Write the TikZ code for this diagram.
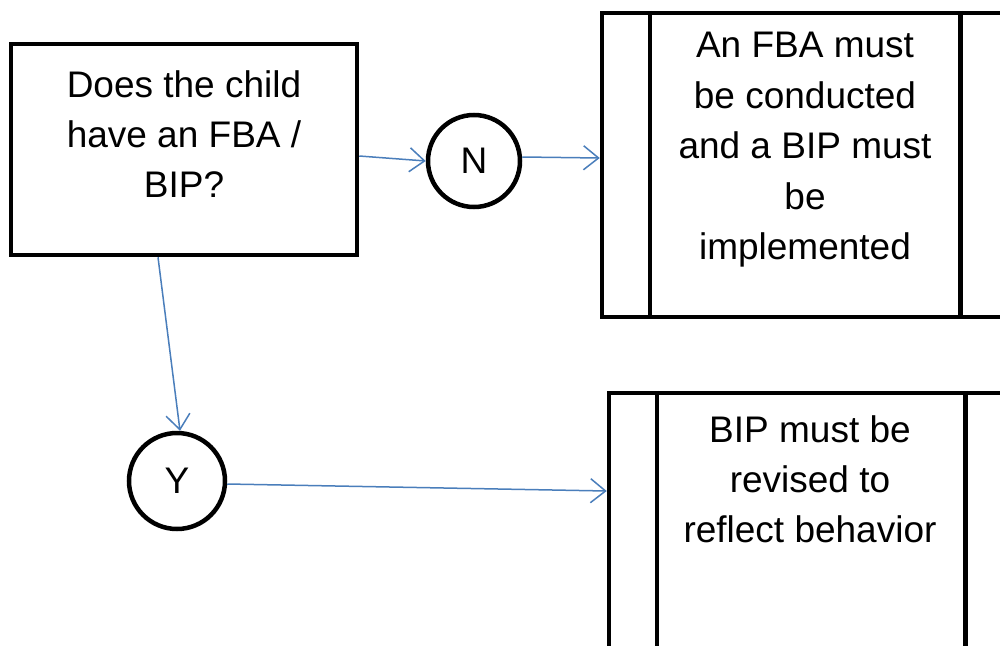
\documentclass[tikz,border=0pt]{standalone}
\usepackage{fontspec}
\setmainfont{Liberation Sans}
\usetikzlibrary{arrows.meta,calc}
\begin{document}
\begin{tikzpicture}[x=1pt,y=-1pt,
  blk/.style={draw=black,line width=4.5pt,rectangle,inner sep=0pt},
  circ/.style={draw=black,line width=4.5pt,circle,inner sep=0pt,font=\fontsize{37}{50}\selectfont},
  txt/.style={align=center,inner sep=0pt,font=\fontsize{37}{50}\selectfont},
  conn/.style={draw={rgb,255:red,74;green,126;blue,187},line width=1.5pt,-{Straight Barb[length=15pt,width=24pt,line width=1.5pt]}},
  sep/.style={draw=black,line width=4.5pt}]
\useasboundingbox (0,0) rectangle (1000,645);
\clip (0,0) rectangle (1000,645);
\fill[white] (0,0) rectangle (1000,645);
% question box
\node[blk,minimum width=346pt,minimum height=211pt] (A) at (184,149.5) {};
\node[txt] (At) at (184,134) {Does the child\\have an FBA /\\BIP?};
% circles
\node[circ,minimum size=92pt] (N) at (474,161) {N};
\node[circ,minimum size=96pt] (Y) at (177,481) {Y};
% predefined process B
\node[blk,minimum width=406pt,minimum height=304pt] (B) at (805,165) {};
\coordinate (B1t) at ($(B.north west)+(50,0)$);
\coordinate (B1b) at ($(B.south west)+(50,0)$);
\coordinate (B2t) at ($(B.north east)+(-50,0)$);
\coordinate (B2b) at ($(B.south east)+(-50,0)$);
\draw[sep] (B1t) -- (B1b);
\draw[sep] (B2t) -- (B2b);
\node[txt,font=\fontsize{37}{50.5}\selectfont] (Bt) at (805,150) {An FBA must\\be conducted\\and a BIP must\\be\\implemented};
% predefined process C
\node[blk,minimum width=404pt,minimum height=310pt] (C) at (811,548) {};
\coordinate (C1t) at ($(C.north west)+(50,0)$);
\coordinate (C1b) at ($(C.south west)+(50,0)$);
\coordinate (C2t) at ($(C.north east)+(-50,0)$);
\coordinate (C2b) at ($(C.south east)+(-50,0)$);
\draw[sep] (C1t) -- (C1b);
\draw[sep] (C2t) -- (C2b);
\node[txt] (Ct) at (810,479) {BIP must be\\revised to\\reflect behavior};
% connectors
\draw[conn] ([yshift=-6.5pt]A.east) -- (N.west);
\draw[conn] ([yshift=4pt]N.east) -- ([yshift=7pt]B.west);
\draw[conn] ([xshift=-26pt]A.south) -- ([xshift=3pt]Y.north);
\draw[conn] ([yshift=-3pt]Y.east) -- ([yshift=57pt]C.west);
\end{tikzpicture}
\end{document}
